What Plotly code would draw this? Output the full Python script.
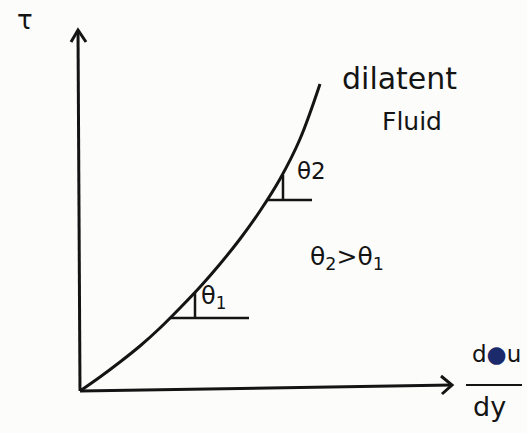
import plotly.graph_objects as go

# Shear stress vs. rate of shear strain for a dilatant (shear-thickening) fluid
shear_rate = [0, 20, 40, 60, 80, 100, 120, 140, 160, 180, 200, 220, 240]
shear_stress = [0, 14, 29, 45, 63, 83, 104, 127, 152, 180, 212, 252, 307]

# Points where the tangent angles are marked (theta_1, theta_2)
tangent_rate = [90, 187]
tangent_stress = [73, 191]
tangent_labels = ["θ<sub>1</sub>", "θ2"]

# Axis end points (drawn by hand, slightly tilted)
x_axis_end = (372, 6)
y_axis_end = (-2, 361)

INK = "#141414"
FONT = "DejaVu Sans"

fig = go.Figure()

def stroke(xs, ys, width=3):
    fig.add_trace(go.Scatter(x=xs, y=ys, mode="lines",
                             line=dict(color=INK, width=width),
                             hoverinfo="skip", showlegend=False))

# Axes with open arrowheads
stroke([0, x_axis_end[0]], [0, x_axis_end[1]])
stroke([x_axis_end[0] - 11, x_axis_end[0], x_axis_end[0] - 10],
       [x_axis_end[1] + 9, x_axis_end[1], x_axis_end[1] - 9], width=3)
stroke([0, y_axis_end[0]], [0, y_axis_end[1]])
stroke([y_axis_end[0] - 7, y_axis_end[0], y_axis_end[0] + 8],
       [y_axis_end[1] - 12, y_axis_end[1], y_axis_end[1] - 12], width=3)

# Flow curve
fig.add_trace(go.Scatter(x=shear_rate, y=shear_stress, mode="lines",
                         line=dict(color=INK, width=3, shape="spline", smoothing=1.0),
                         hoverinfo="skip", showlegend=False))

# Tangent marks: horizontal reference line and short vertical tick to the curve
arm = [79, 45]
tick_dx = [25, 16]
tick_dy = [25, 25]
for i in range(2):
    x0, y0 = tangent_rate[i], tangent_stress[i]
    stroke([x0, x0 + arm[i]], [y0, y0], width=2.5)
    stroke([x0 + tick_dx[i], x0 + tick_dx[i]], [y0, y0 + tick_dy[i]], width=2.5)

def label(x, y, text, size, **kw):
    fig.add_annotation(x=x, y=y, text=text, showarrow=False,
                       font=dict(family=FONT, size=size, color=INK), **kw)

label(tangent_rate[0] + 43, tangent_stress[0] + 21, tangent_labels[0], 24)
label(tangent_rate[1] + 44, tangent_stress[1] + 29, tangent_labels[1], 23)
label(267, 133, "θ<sub>2</sub>>θ<sub>1</sub>", 25)
label(-55, 371, "τ", 26)
label(319, 313, "dilatent", 30)
label(332, 270, "Fluid", 25)
label(416, 37, "d<span style='color:#1b2a6b'>●</span>u", 23)
label(409, -15, "dy", 27)
stroke([386, 442], [6, 6], width=2)

fig.update_layout(
    width=527, height=433,
    margin=dict(l=0, r=0, t=0, b=0),
    paper_bgcolor="#fcfcfb", plot_bgcolor="#fcfcfb",
    xaxis=dict(range=[-80, 447], visible=False, fixedrange=True),
    yaxis=dict(range=[-42, 391], visible=False, fixedrange=True),
)

fig.write_html("out.html")
